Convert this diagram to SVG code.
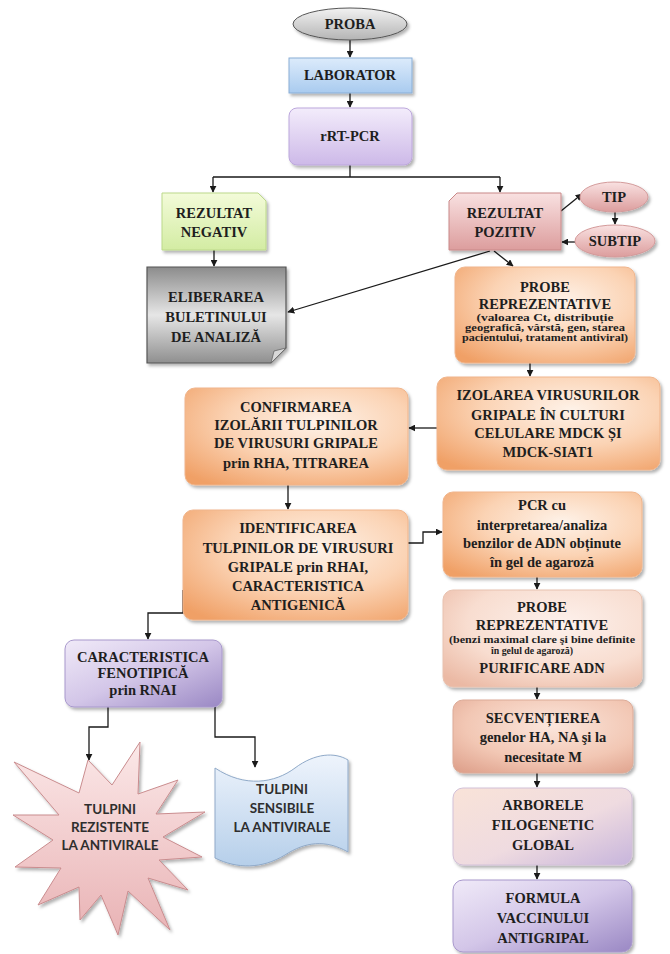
<svg xmlns="http://www.w3.org/2000/svg" width="670" height="954" viewBox="0 0 670 954">
  <defs>
    <style>
      .t { font-family: "Liberation Serif", "Times New Roman", serif; font-weight: bold; font-size: 14.5px; fill: #1e1e1e; text-anchor: middle; }
      .s { font-family: "Liberation Serif", "Times New Roman", serif; font-weight: bold; font-size: 10px; fill: #1e1e1e; text-anchor: middle; }
      .c { font-family: Lato, "Open Sans", sans-serif; font-weight: bold; font-size: 13.5px; fill: #2e2e2e; text-anchor: middle; }
      .ln { fill: none; stroke: #1a1a1a; stroke-width: 1.3; }
      .arr { marker-end: url(#ah); }
      .sh { filter: url(#shadow); }
    </style>
    <marker id="ah" viewBox="0 0 10 10" refX="9" refY="5" markerWidth="7" markerHeight="7" orient="auto" markerUnits="userSpaceOnUse">
      <path d="M0,0 L10,5 L0,10 Z" fill="#1a1a1a"/>
    </marker>
    <filter id="shadow" x="-10%" y="-10%" width="130%" height="130%">
      <feDropShadow dx="2" dy="2.5" stdDeviation="1.6" flood-color="#000" flood-opacity="0.3"/>
    </filter>
    <linearGradient id="gGray" x1="0" y1="0" x2="0" y2="1">
      <stop offset="0" stop-color="#f2f2f2"/><stop offset="1" stop-color="#b4b4b4"/>
    </linearGradient>
    <linearGradient id="gBlue" x1="0" y1="0" x2="0" y2="1">
      <stop offset="0" stop-color="#dcebfb"/><stop offset="1" stop-color="#a9cbef"/>
    </linearGradient>
    <linearGradient id="gLav" x1="0" y1="0" x2="0" y2="1">
      <stop offset="0" stop-color="#f3ecfb"/><stop offset="1" stop-color="#cdb9e8"/>
    </linearGradient>
    <linearGradient id="gGreen" x1="0" y1="0" x2="0" y2="1">
      <stop offset="0" stop-color="#f3fbd9"/><stop offset="1" stop-color="#d3eca3"/>
    </linearGradient>
    <linearGradient id="gPink" x1="0" y1="0" x2="0" y2="1">
      <stop offset="0" stop-color="#f9e1e1"/><stop offset="1" stop-color="#dc9d9d"/>
    </linearGradient>
    <linearGradient id="gDark" x1="0" y1="0" x2="0" y2="1">
      <stop offset="0" stop-color="#8c8c8c"/><stop offset="0.5" stop-color="#e6e6e6"/><stop offset="1" stop-color="#8f8f8f"/>
    </linearGradient>
    <radialGradient id="gOrange" cx="0.6" cy="0.35" r="0.8">
      <stop offset="0" stop-color="#fef2e8"/><stop offset="0.5" stop-color="#fbd3b4"/><stop offset="1" stop-color="#f0a066"/>
    </radialGradient>
    <radialGradient id="gPeach" cx="0.6" cy="0.35" r="0.8">
      <stop offset="0" stop-color="#fdf1ec"/><stop offset="0.6" stop-color="#f8ddd0"/><stop offset="1" stop-color="#ebb9a4"/>
    </radialGradient>
    <radialGradient id="gSalmon" cx="0.55" cy="0.35" r="0.8">
      <stop offset="0" stop-color="#fbe6dc"/><stop offset="0.6" stop-color="#f2c7b4"/><stop offset="1" stop-color="#dfa28d"/>
    </radialGradient>
    <linearGradient id="gPeachLav" x1="0" y1="0" x2="1" y2="1">
      <stop offset="0" stop-color="#f9e3d8"/><stop offset="0.55" stop-color="#efdbe0"/><stop offset="1" stop-color="#c7b5dc"/>
    </linearGradient>
    <linearGradient id="gPurple" x1="0" y1="0" x2="1" y2="1">
      <stop offset="0" stop-color="#f0eaf8"/><stop offset="0.5" stop-color="#d3c6e8"/><stop offset="1" stop-color="#9a88c4"/>
    </linearGradient>
    <linearGradient id="gStar" x1="0" y1="0" x2="0" y2="1">
      <stop offset="0" stop-color="#fbe8e8"/><stop offset="1" stop-color="#e9b3b5"/>
    </linearGradient>
    <linearGradient id="gSky" x1="0" y1="0" x2="0" y2="1">
      <stop offset="0" stop-color="#eef4fc"/><stop offset="1" stop-color="#b6cfea"/>
    </linearGradient>
  </defs>

  <!-- connectors -->
  <g id="connectors">
    <path class="ln arr" d="M350,40 V57"/>
    <path class="ln arr" d="M350,93 V107"/>
    <path class="ln" d="M350,165 V177 M213,177 H500"/>
    <path class="ln arr" d="M213,177 V192"/>
    <path class="ln arr" d="M500,177 V192"/>
    <path class="ln arr" d="M214,250 V266"/>
    <path class="ln arr" d="M561,211 L582,194"/>
    <path class="ln arr" d="M615,212 V224"/>
    <path class="ln arr" d="M575,242 H562"/>
    <path class="ln arr" d="M490,251 L288,312"/>
    <path class="ln arr" d="M494,251 L513,266"/>
    <path class="ln arr" d="M530,363 V376"/>
    <path class="ln arr" d="M437,428 H409"/>
    <path class="ln arr" d="M288,485 V509"/>
    <path class="ln arr" d="M408,543 H423 V532 H442"/>
    <path class="ln arr" d="M537,577 V589"/>
    <path class="ln arr" d="M537,687 V699"/>
    <path class="ln arr" d="M537,773 V787"/>
    <path class="ln arr" d="M537,865 V879"/>
    <path class="ln arr" d="M183,590 V613 H148 V639"/>
    <path class="ln arr" d="M108,707 V727 H89 V760"/>
    <path class="ln arr" d="M215,707 V737 H255 V767"/>
  </g>

  <g id="proba">
    <ellipse class="sh" cx="350" cy="24" rx="57" ry="16" fill="url(#gGray)" stroke="#555" stroke-width="1"/>
    <text class="t" x="350" y="29">PROBA</text>
  </g>

  <g id="laborator">
    <rect class="sh" x="289" y="58" width="123" height="35" fill="url(#gBlue)" stroke="#8aaed6" stroke-width="1"/>
    <text class="t" x="350" y="80">LABORATOR</text>
  </g>

  <g id="rrt-pcr">
    <rect class="sh" x="289" y="108" width="123" height="57" rx="8" fill="url(#gLav)" stroke="#bca7dc" stroke-width="1"/>
    <text class="t" x="350" y="141">rRT-PCR</text>
  </g>

  <g id="rezultat-negativ">
    <path class="sh" d="M162,193 H258 L266,201 V250 H162 Z" fill="url(#gGreen)" stroke="#bcd98a" stroke-width="1"/>
    <text class="t" x="214" y="218">REZULTAT</text>
    <text class="t" x="214" y="237">NEGATIV</text>
  </g>

  <g id="eliberarea">
    <path class="sh" d="M147,267 H286 V348 L271,363 H147 Z" fill="url(#gDark)" stroke="#555" stroke-width="1.2"/>
    <path d="M271,363 L274,351 L286,348 Z" fill="#d8d8d8" stroke="#666" stroke-width="0.8"/>
    <text class="t" x="216" y="302">ELIBERAREA</text>
    <text class="t" x="216" y="322">BULETINULUI</text>
    <text class="t" x="216" y="342">DE ANALIZĂ</text>
  </g>

  <g id="rezultat-pozitiv">
    <path class="sh" d="M457,193 H561 V250 H449 V201 Z" fill="url(#gPink)" stroke="#c98888" stroke-width="1"/>
    <text class="t" x="505" y="218">REZULTAT</text>
    <text class="t" x="505" y="237">POZITIV</text>
  </g>

  <g id="tip">
    <ellipse class="sh" cx="614" cy="197" rx="34" ry="15" fill="url(#gPink)" stroke="#d39a9a" stroke-width="1"/>
    <text class="t" x="614" y="202">TIP</text>
  </g>

  <g id="subtip">
    <ellipse class="sh" cx="615" cy="241" rx="40" ry="16" fill="url(#gPink)" stroke="#d39a9a" stroke-width="1"/>
    <text class="t" x="615" y="246">SUBTIP</text>
  </g>

  <g id="probe-reprezentative-1">
    <rect class="sh" x="455" y="267" width="180" height="96" rx="10" fill="url(#gOrange)" stroke="#f0b58c" stroke-width="1"/>
    <text class="t" x="545" y="292">PROBE</text>
    <text class="t" x="545" y="309">REPREZENTATIVE</text>
    <text class="s" x="545" y="321" textLength="137" lengthAdjust="spacingAndGlyphs">(valoarea Ct, distribuție</text>
    <text class="s" x="545" y="331" textLength="160" lengthAdjust="spacingAndGlyphs">geografică, vârstă, gen, starea</text>
    <text class="s" x="545" y="341" textLength="166" lengthAdjust="spacingAndGlyphs">pacientului, tratament antiviral)</text>
  </g>

  <g id="izolarea">
    <rect class="sh" x="437" y="377" width="223" height="93" rx="10" fill="url(#gOrange)" stroke="#f0b58c" stroke-width="1"/>
    <text class="t" x="548" y="400">IZOLAREA VIRUSURILOR</text>
    <text class="t" x="548" y="420">GRIPALE ÎN CULTURI</text>
    <text class="t" x="548" y="438">CELULARE MDCK ȘI</text>
    <text class="t" x="548" y="457">MDCK-SIAT1</text>
  </g>

  <g id="confirmarea">
    <rect class="sh" x="185" y="388" width="223" height="97" rx="10" fill="url(#gOrange)" stroke="#f0b58c" stroke-width="1"/>
    <text class="t" x="296" y="412">CONFIRMAREA</text>
    <text class="t" x="296" y="430">IZOLĂRII TULPINILOR</text>
    <text class="t" x="296" y="448">DE VIRUSURI  GRIPALE</text>
    <text class="t" x="296" y="468">prin RHA, TITRAREA</text>
  </g>

  <g id="identificarea">
    <rect class="sh" x="183" y="510" width="225" height="110" rx="10" fill="url(#gOrange)" stroke="#f0b58c" stroke-width="1"/>
    <text class="t" x="298" y="533">IDENTIFICAREA</text>
    <text class="t" x="298" y="553">TULPINILOR DE VIRUSURI</text>
    <text class="t" x="298" y="572">GRIPALE prin RHAI,</text>
    <text class="t" x="298" y="591">CARACTERISTICA</text>
    <text class="t" x="298" y="610">ANTIGENICĂ</text>
  </g>

  <g id="pcr">
    <rect class="sh" x="443" y="492" width="199" height="85" rx="10" fill="url(#gOrange)" stroke="#f0b58c" stroke-width="1"/>
    <text class="t" x="542" y="510">PCR cu</text>
    <text class="t" x="542" y="530">interpretarea/analiza</text>
    <text class="t" x="542" y="548">benzilor de ADN obținute</text>
    <text class="t" x="542" y="567">în gel de agaroză</text>
  </g>

  <g id="probe-reprezentative-2">
    <rect class="sh" x="443" y="590" width="199" height="97" rx="10" fill="url(#gPeach)" stroke="#e8c2b0" stroke-width="1"/>
    <text class="t" x="542" y="612">PROBE</text>
    <text class="t" x="542" y="630">REPREZENTATIVE</text>
    <text class="s" x="542" y="643" textLength="186" lengthAdjust="spacingAndGlyphs">(benzi maximal clare şi bine definite</text>
    <text class="s" x="532" y="654" textLength="82" lengthAdjust="spacingAndGlyphs">în gelul de agaroză)</text>
    <text class="t" x="542" y="673">PURIFICARE  ADN</text>
  </g>

  <g id="secventierea">
    <rect class="sh" x="453" y="700" width="180" height="73" rx="10" fill="url(#gSalmon)" stroke="#dcab98" stroke-width="1"/>
    <text class="t" x="543" y="723">SECVENȚIEREA</text>
    <text class="t" x="543" y="742">genelor HA, NA şi la</text>
    <text class="t" x="543" y="762">necesitate M</text>
  </g>

  <g id="arborele">
    <rect class="sh" x="453" y="788" width="179" height="77" rx="10" fill="url(#gPeachLav)" stroke="#d2c0d8" stroke-width="1"/>
    <text class="t" x="543" y="810">ARBORELE</text>
    <text class="t" x="543" y="830">FILOGENETIC</text>
    <text class="t" x="543" y="850">GLOBAL</text>
  </g>

  <g id="formula">
    <rect class="sh" x="453" y="880" width="179" height="72" rx="10" fill="url(#gPurple)" stroke="#a898cc" stroke-width="1"/>
    <text class="t" x="543" y="903">FORMULA</text>
    <text class="t" x="543" y="923">VACCINULUI</text>
    <text class="t" x="543" y="943">ANTIGRIPAL</text>
  </g>

  <g id="fenotipica">
    <rect class="sh" x="65" y="640" width="157" height="67" rx="9" fill="url(#gPurple)" stroke="#a898cc" stroke-width="1"/>
    <text class="t" x="143" y="662">CARACTERISTICA</text>
    <text class="t" x="143" y="678">FENOTIPICĂ</text>
    <text class="t" x="143" y="695">prin RNAI</text>
  </g>

  <g id="tulpini-rezistente">
    <polygon class="sh" points="140,742 138,794 178,780 156,814 205,812 163,837 202,857 159,860 188,890 148,878 170,930 128,891 118,935 101,895 80,920 79,887 38,905 61,868 15,867 53,840 13,815 59,815 14,762 79,793 88,760 112,785" fill="url(#gStar)" stroke="#c98c8e" stroke-width="1"/>
    <text class="c" x="110" y="814">TULPINI</text>
    <text class="c" x="110" y="832">REZISTENTE</text>
    <text class="c" x="110" y="850">LA ANTIVIRALE</text>
  </g>

  <g id="tulpini-sensibile">
    <path class="sh" d="M215,768 C245,788 275,783 295,768 C315,753 335,752 348,760 V852 C325,839 305,842 285,855 C262,869 237,869 215,858 Z" fill="url(#gSky)" stroke="#8fa9c8" stroke-width="1"/>
    <text class="c" x="282" y="794">TULPINI</text>
    <text class="c" x="282" y="813">SENSIBILE</text>
    <text class="c" x="282" y="832">LA ANTIVIRALE</text>
  </g>
</svg>
